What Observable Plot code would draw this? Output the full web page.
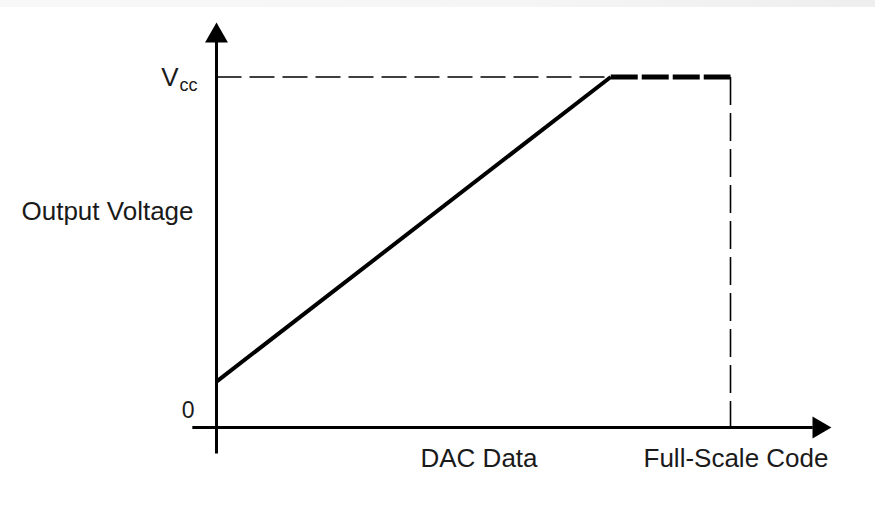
<!DOCTYPE html>
<html>
<head>
<meta charset="utf-8">
<script src="https://cdn.jsdelivr.net/npm/d3@7"></script>
<script src="https://cdn.jsdelivr.net/npm/@observablehq/plot@0.6"></script>
<style>
  html, body { margin: 0; padding: 0; background: #fff; }
  #wrap { position: relative; width: 875px; height: 525px; }
  #topbar { position: absolute; left: 0; top: 0; width: 875px; height: 7px;
            background: linear-gradient(to right, #f8f8f8, #f5f5f5 60%, #eeeeee); }
  svg text { font-family: "Liberation Sans", Arial, Helvetica, sans-serif; }
</style>
</head>
<body>
<div id="wrap"><div id="topbar"></div><div id="chart"></div></div>
<script>
// DAC transfer function (normalised: code 0..1 = full scale, voltage 0..1 = Vcc)
const rampCode = [0, 0.767];
const rampVoltage = [0.131, 1];
const clipCode = [0.767, 1];
const clipVoltage = [1, 1];
const vccRefCode = [0, 0.767];
const vccRefVoltage = [1, 1];
const fullScaleCode = [1, 1];
const fullScaleVoltage = [1, 0];
// axes extents (arrowed axes)
const xAxisCode = [-0.047, 1.16];
const yAxisVoltage = [-0.074, 1.10];
const xArrowCode = [1.1718];
const yArrowVoltage = [1.1175];
// labels
const yTickLabels = ["0", "V"];
const yTickValues = [0, 1];
const vccSubscript = ["cc"];
const yAxisTitle = ["Output Voltage"];
const xLabels = ["DAC Data", "Full-Scale Code"];
const xLabelValues = [0.5, 1];

const zip = (xs, ys) => xs.map((x, i) => ({x, y: ys[i]}));

const chart = Plot.plot({
  width: 875,
  height: 525,
  margin: 0,
  x: {domain: [0, 1], range: [216, 730], axis: null},
  y: {domain: [0, 1], range: [427, 76.5], axis: null},
  style: {background: "transparent"},
  marks: [
    // reference dashed lines
    Plot.line(zip(vccRefCode, vccRefVoltage), {x: "x", y: "y", stroke: "#000", strokeWidth: 1.6, strokeDasharray: "25 8", strokeLinecap: "butt"}),
    Plot.line(zip(fullScaleCode, fullScaleVoltage), {x: "x", y: "y", stroke: "#000", strokeWidth: 1.6, strokeDasharray: "28 8", strokeLinecap: "butt"}),
    // axes
    Plot.line(zip(xAxisCode, [0, 0]), {x: "x", y: "y", stroke: "#000", strokeWidth: 3, strokeLinecap: "butt"}),
    Plot.line(zip([0, 0], yAxisVoltage), {x: "x", y: "y", stroke: "#000", strokeWidth: 3, strokeLinecap: "butt"}),
    Plot.dot(xArrowCode, {x: d => d, y: () => 0, symbol: "triangle", r: 8.1, fill: "#000", rotate: 90}),
    Plot.dot(yArrowVoltage, {x: () => 0, y: d => d, symbol: "triangle", r: 8.5, fill: "#000"}),
    // transfer function
    Plot.line(zip(rampCode, rampVoltage), {x: "x", y: "y", stroke: "#000", strokeWidth: 4, strokeLinecap: "butt"}),
    Plot.line(zip(clipCode, clipVoltage), {x: "x", y: "y", stroke: "#000", strokeWidth: 5, strokeDasharray: "27 4", strokeLinecap: "butt"}),
    // labels
    Plot.text(yTickValues, {x: () => 0, y: d => d, text: (d, i) => yTickLabels[i], textAnchor: "end", lineAnchor: "bottom",
      dx: -38, dy: 9, fontSize: 26, fill: "#1a1a1a",
      filter: (d, i) => i === 1}),
    Plot.text(yTickValues, {x: () => 0, y: d => d, text: (d, i) => yTickLabels[i], textAnchor: "end", lineAnchor: "bottom",
      dx: -22, dy: -10, fontSize: 23, fill: "#1a1a1a",
      filter: (d, i) => i === 0}),
    Plot.text(vccSubscript, {x: () => 0, y: () => 1, text: d => d, textAnchor: "start", lineAnchor: "bottom",
      dx: -37, dy: 13.5, fontSize: 18, fill: "#1a1a1a"}),
    Plot.text(yAxisTitle, {x: () => 0, y: () => 0.5, text: d => d, textAnchor: "start", lineAnchor: "bottom",
      dx: -195, dy: -32, fontSize: 26, fill: "#1a1a1a"}),
    Plot.text(xLabelValues, {x: d => d, y: () => 0, text: (d, i) => xLabels[i], textAnchor: "middle", lineAnchor: "bottom",
      dx: 5.5, dy: 39, fontSize: 26, fill: "#1a1a1a"})
  ]
});
document.getElementById("chart").appendChild(chart);
</script>
</body>
</html>
